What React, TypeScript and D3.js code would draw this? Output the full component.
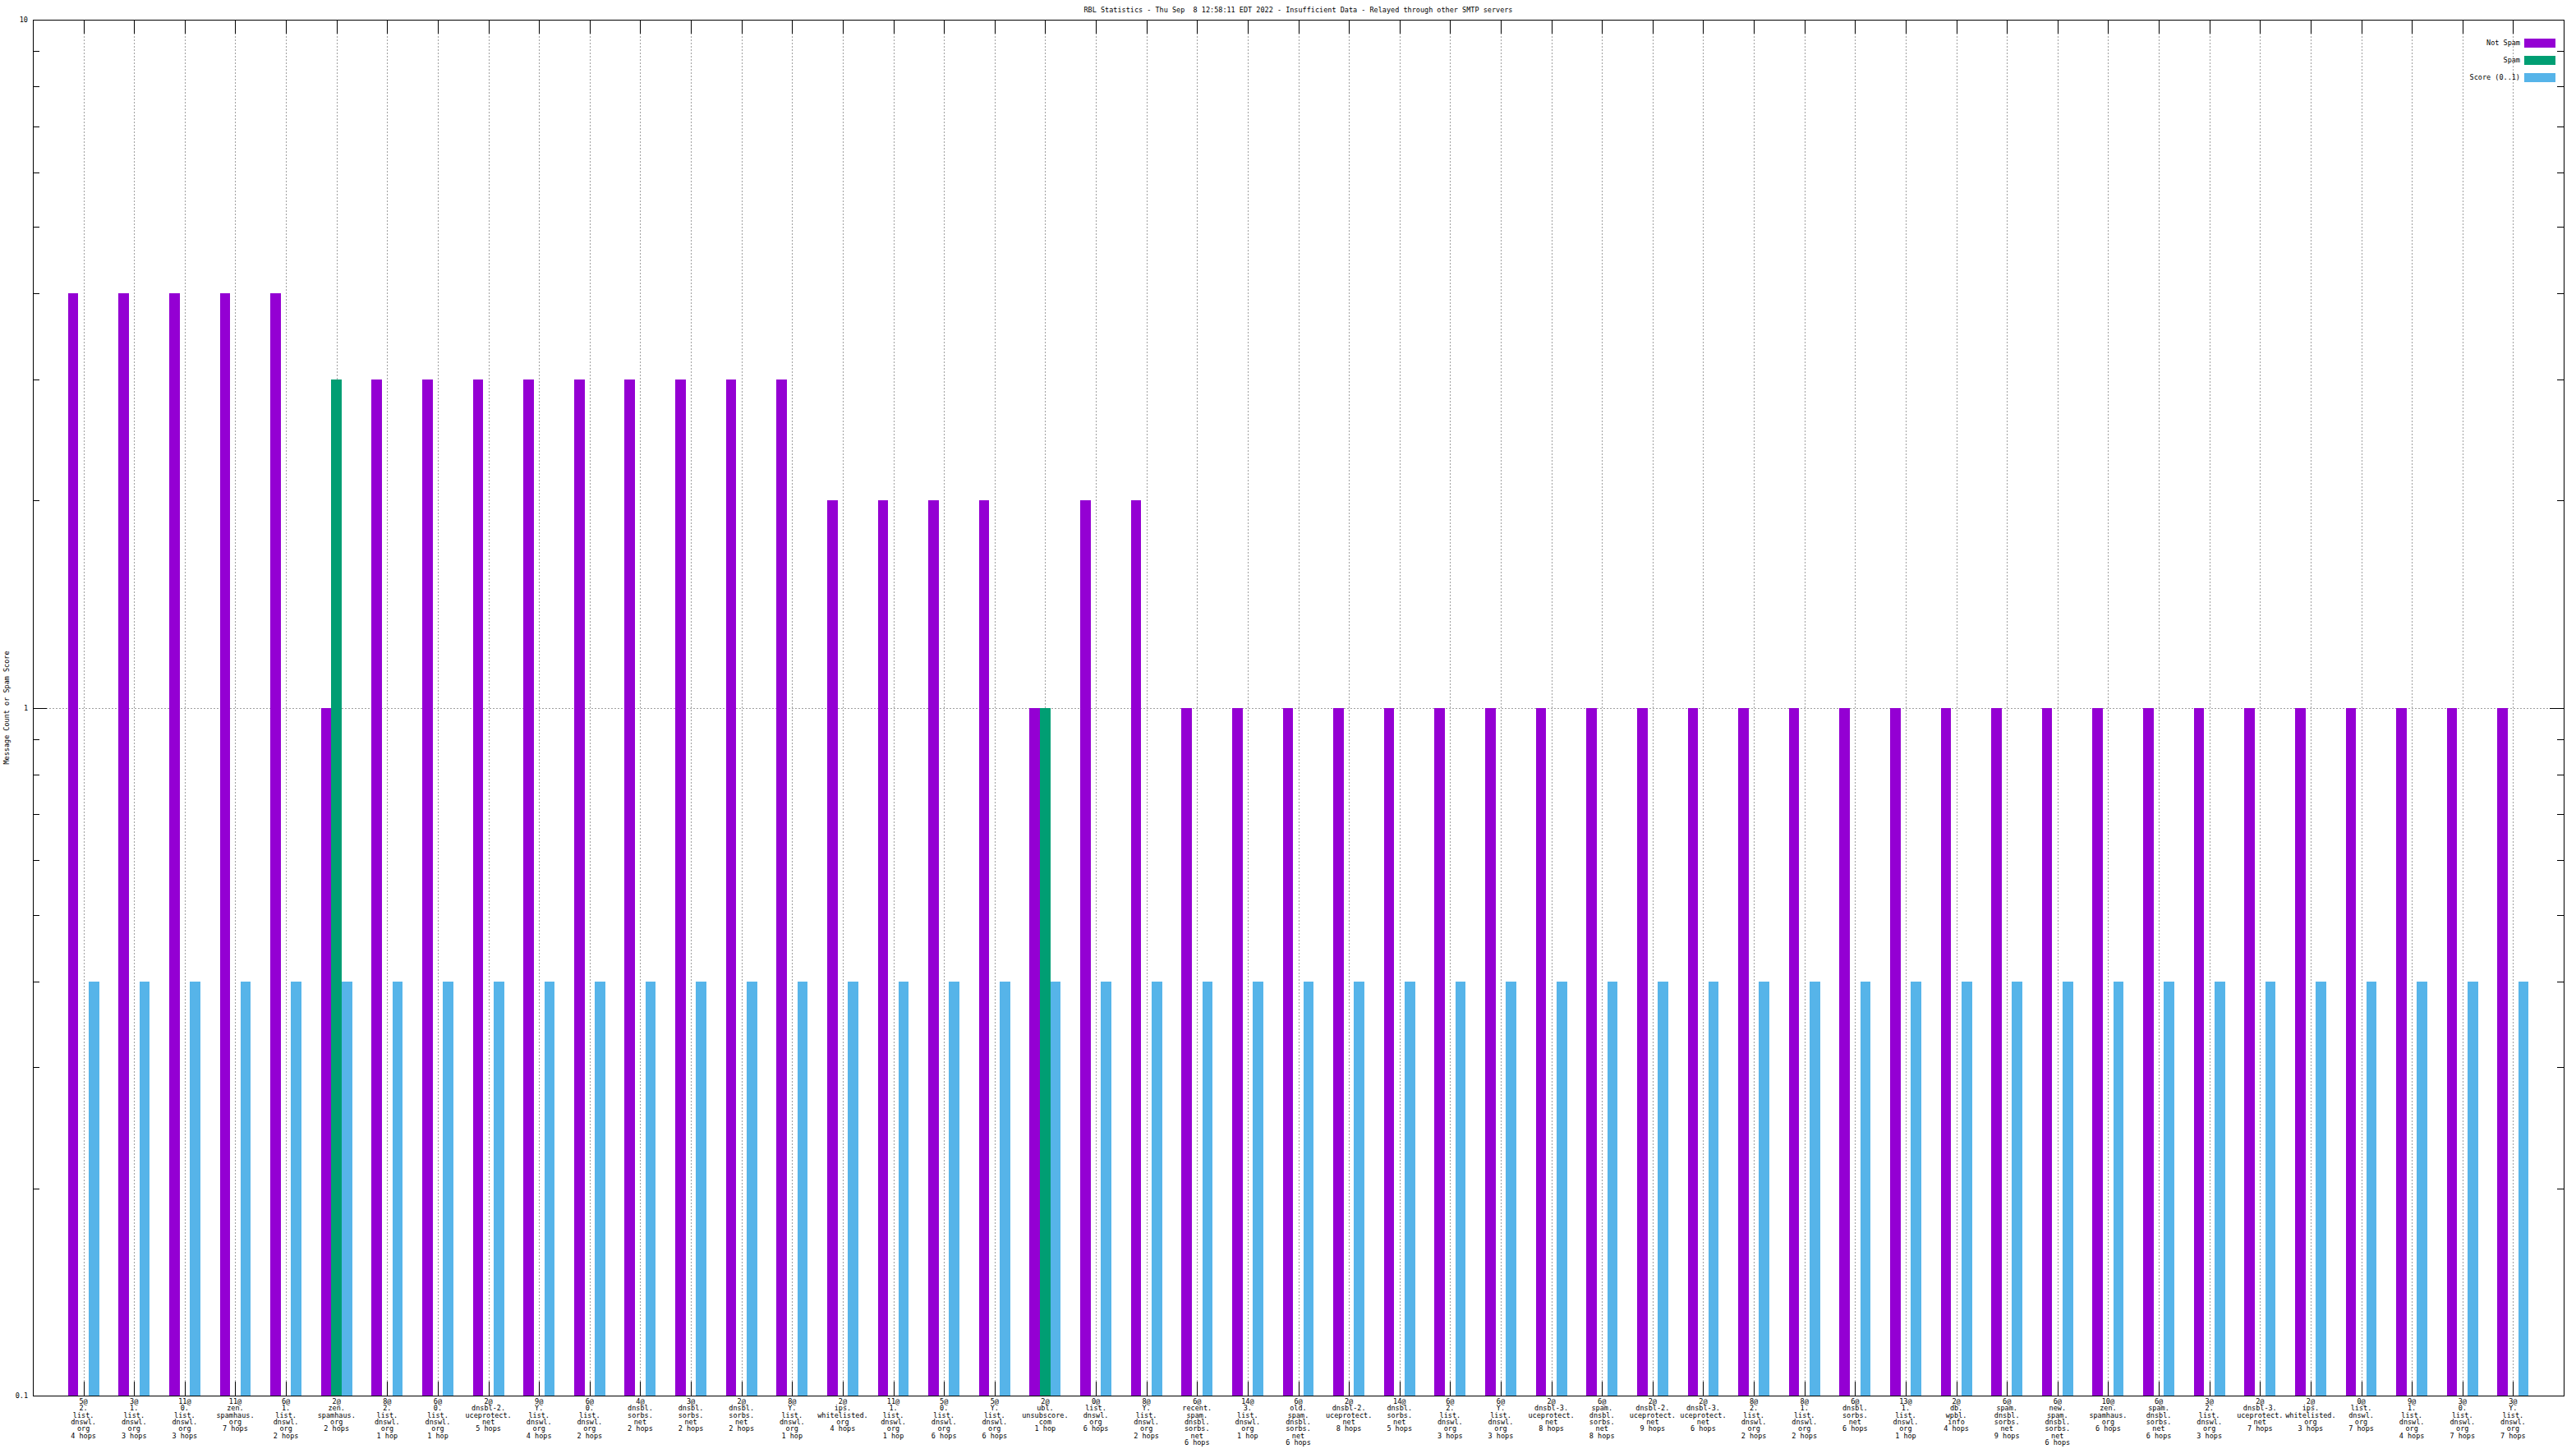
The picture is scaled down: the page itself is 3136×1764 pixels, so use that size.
import React from "react";
import * as d3 from "d3";

const title = "RBL Statistics - Thu Sep  8 12:58:11 EDT 2022 - Insufficient Data - Relayed through other SMTP servers";
const yLabel = "Message Count or Spam Score";
const seriesNames = ["Not Spam", "Spam", "Score (0..1)"];
const seriesColors = ["#9400D3", "#009E73", "#56B4E9"];

const categories = [
  "5@|2.|list.|dnswl.|org|4 hops",
  "3@|1.|list.|dnswl.|org|3 hops",
  "11@|0.|list.|dnswl.|org|3 hops",
  "11@|zen.|spamhaus.|org|7 hops",
  "6@|1.|list.|dnswl.|org|2 hops",
  "2@|zen.|spamhaus.|org|2 hops",
  "8@|2.|list.|dnswl.|org|1 hop",
  "6@|0.|list.|dnswl.|org|1 hop",
  "2@|dnsbl-2.|uceprotect.|net|5 hops",
  "9@|Y.|list.|dnswl.|org|4 hops",
  "6@|0.|list.|dnswl.|org|2 hops",
  "4@|dnsbl.|sorbs.|net|2 hops",
  "3@|dnsbl.|sorbs.|net|2 hops",
  "2@|dnsbl.|sorbs.|net|2 hops",
  "8@|Y.|list.|dnswl.|org|1 hop",
  "2@|ips.|whitelisted.|org|4 hops",
  "11@|1.|list.|dnswl.|org|1 hop",
  "5@|0.|list.|dnswl.|org|6 hops",
  "5@|Y.|list.|dnswl.|org|6 hops",
  "2@|ubl.|unsubscore.|com|1 hop",
  "0@|list.|dnswl.|org|6 hops",
  "8@|Y.|list.|dnswl.|org|2 hops",
  "6@|recent.|spam.|dnsbl.|sorbs.|net|6 hops",
  "14@|3.|list.|dnswl.|org|1 hop",
  "6@|old.|spam.|dnsbl.|sorbs.|net|6 hops",
  "2@|dnsbl-2.|uceprotect.|net|8 hops",
  "14@|dnsbl.|sorbs.|net|5 hops",
  "6@|2.|list.|dnswl.|org|3 hops",
  "6@|Y.|list.|dnswl.|org|3 hops",
  "2@|dnsbl-3.|uceprotect.|net|8 hops",
  "6@|spam.|dnsbl.|sorbs.|net|8 hops",
  "2@|dnsbl-2.|uceprotect.|net|9 hops",
  "2@|dnsbl-3.|uceprotect.|net|6 hops",
  "8@|2.|list.|dnswl.|org|2 hops",
  "8@|1.|list.|dnswl.|org|2 hops",
  "6@|dnsbl.|sorbs.|net|6 hops",
  "13@|1.|list.|dnswl.|org|1 hop",
  "2@|db.|wpbl.|info|4 hops",
  "6@|spam.|dnsbl.|sorbs.|net|9 hops",
  "6@|new.|spam.|dnsbl.|sorbs.|net|6 hops",
  "10@|zen.|spamhaus.|org|6 hops",
  "6@|spam.|dnsbl.|sorbs.|net|6 hops",
  "3@|2.|list.|dnswl.|org|3 hops",
  "2@|dnsbl-3.|uceprotect.|net|7 hops",
  "2@|ips.|whitelisted.|org|3 hops",
  "0@|list.|dnswl.|org|7 hops",
  "9@|1.|list.|dnswl.|org|4 hops",
  "3@|0.|list.|dnswl.|org|7 hops",
  "3@|Y.|list.|dnswl.|org|7 hops",
];

const notSpam = [
  4, 4, 4, 4, 4, 1, 3, 3, 3, 3, 3, 3, 3, 3, 3, 2, 2, 2, 2, 1, 2, 2,
  1, 1, 1, 1, 1, 1, 1, 1, 1, 1, 1, 1, 1, 1, 1, 1, 1, 1, 1, 1, 1, 1, 1, 1, 1, 1, 1,
];
const spam = [
  0, 0, 0, 0, 0, 3, 0, 0, 0, 0, 0, 0, 0, 0, 0, 0, 0, 0, 0, 1, 0, 0,
  0, 0, 0, 0, 0, 0, 0, 0, 0, 0, 0, 0, 0, 0, 0, 0, 0, 0, 0, 0, 0, 0, 0, 0, 0, 0, 0,
];
const score = [
  0.4, 0.4, 0.4, 0.4, 0.4, 0.4, 0.4, 0.4, 0.4, 0.4, 0.4, 0.4, 0.4, 0.4, 0.4, 0.4, 0.4, 0.4, 0.4, 0.4, 0.4, 0.4,
  0.4, 0.4, 0.4, 0.4, 0.4, 0.4, 0.4, 0.4, 0.4, 0.4, 0.4, 0.4, 0.4, 0.4, 0.4, 0.4, 0.4, 0.4, 0.4, 0.4, 0.4, 0.4, 0.4, 0.4, 0.4, 0.4, 0.4,
];
const yMajorTicks = [0.1, 1, 10];
const yTickLabels = ["0.1", "1", "10"];
const yMinorTicks = [0.2, 0.3, 0.4, 0.5, 0.6, 0.7, 0.8, 0.9, 2, 3, 4, 5, 6, 7, 8, 9];

const W = 3136;
const H = 1764;
const L = 40, R = 3121, T = 24, B = 1699;
const FONT = "'DejaVu Sans Mono', 'Liberation Mono', monospace";
const FS = 8.5;

export default function App() {
  const x = d3.scaleLinear().domain([0, categories.length + 1]).range([L, R]);
  const y = d3.scaleLog().domain([0.1, 10]).range([B, T]);
  const bw = 0.205;
  const series = [notSpam, spam, score];
  const majorLen = 17;
  const minorLen = 8;

  return (
    <div style={{ position: "absolute", left: 0, top: 0, width: W, height: H, background: "#fff" }}>
      <svg width={W} height={H} style={{ display: "block" }} fontFamily={FONT} fontSize={FS}>
        <rect x={0} y={0} width={W} height={H} fill="#fff" />
        <text x={(L + R) / 2} y={12} textAnchor="middle" dominantBaseline="central" style={{ whiteSpace: "pre" }}>
          {title}
        </text>
        {/* grid */}
        <g stroke="#a0a0a0" strokeWidth={1} strokeDasharray="2,2" shapeRendering="crispEdges">
          {categories.map((_, i) => (
            <line key={"gx" + i} x1={Math.round(x(i + 1)) + 0.5} x2={Math.round(x(i + 1)) + 0.5} y1={T} y2={B} />
          ))}
          <line x1={L} x2={R} y1={Math.round(y(1)) + 0.5} y2={Math.round(y(1)) + 0.5} />
        </g>
        {/* ticks */}
        <g stroke="#000" strokeWidth={1} shapeRendering="crispEdges">
          {categories.map((_, i) => {
            const xx = Math.round(x(i + 1)) + 0.5;
            return (
              <g key={"tx" + i}>
                <line x1={xx} x2={xx} y1={B} y2={B - majorLen} />
                <line x1={xx} x2={xx} y1={T} y2={T + majorLen} />
              </g>
            );
          })}
          {yMajorTicks.map((v, i) => {
            const yy = Math.round(y(v)) + 0.5;
            return (
              <g key={"ty" + i}>
                <line x1={L} x2={L + majorLen} y1={yy} y2={yy} />
                <line x1={R} x2={R - majorLen} y1={yy} y2={yy} />
              </g>
            );
          })}
          {yMinorTicks.map((v, i) => {
            const yy = Math.round(y(v)) + 0.5;
            return (
              <g key={"tm" + i}>
                <line x1={L} x2={L + minorLen} y1={yy} y2={yy} />
                <line x1={R} x2={R - minorLen} y1={yy} y2={yy} />
              </g>
            );
          })}
        </g>
        {/* bars */}
        <g shapeRendering="crispEdges">
          {series.map((vals, k) =>
            vals.map((v, i) => {
              if (!(v > 0)) return null;
              const x0 = x(i + 1 + (k - 1) * bw - bw / 2);
              const x1 = x(i + 1 + (k - 1) * bw + bw / 2);
              return (
                <rect
                  key={"b" + k + "-" + i}
                  x={Math.round(x0)}
                  width={Math.round(x1) - Math.round(x0)}
                  y={Math.round(y(v))}
                  height={B - Math.round(y(v))}
                  fill={seriesColors[k]}
                />
              );
            })
          )}
        </g>
        {/* border */}
        <rect x={L + 0.5} y={T + 0.5} width={R - L} height={B - T} fill="none" stroke="#000" strokeWidth={1} shapeRendering="crispEdges" />
        {/* y tick labels */}
        {yMajorTicks.map((v, i) => (
          <text key={"yl" + i} x={34} y={y(v)} textAnchor="end" dominantBaseline="central">
            {yTickLabels[i]}
          </text>
        ))}
        {/* x tick labels */}
        {categories.map((c, i) => (
          <text key={"xl" + i} x={x(i + 1)} y={1706} textAnchor="middle">
            {c.split("|").map((line, j) => (
              <tspan key={j} x={x(i + 1)} y={1706 + j * 8.33} dominantBaseline="central">
                {line}
              </tspan>
            ))}
          </text>
        ))}
        {/* y axis label */}
        <text transform={`translate(8,${(T + B) / 2}) rotate(-90)`} textAnchor="middle" dominantBaseline="central">
          {yLabel}
        </text>
        {/* legend */}
        {seriesNames.map((n, k) => {
          const cy = 52 + k * 21;
          return (
            <g key={"lg" + k}>
              <text x={3068} y={cy} textAnchor="end" dominantBaseline="central" style={{ whiteSpace: "pre" }}>
                {n}
              </text>
              <rect x={3073} y={cy - 5.5} width={38} height={11} fill={seriesColors[k]} shapeRendering="crispEdges" />
            </g>
          );
        })}
      </svg>
    </div>
  );
}
